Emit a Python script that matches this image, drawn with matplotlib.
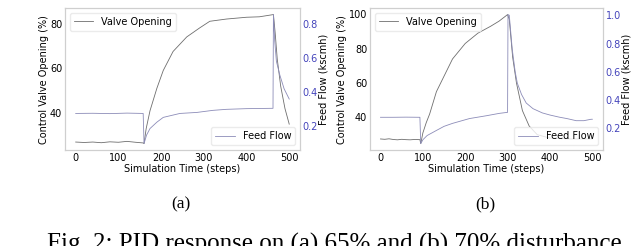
import matplotlib
matplotlib.use("Agg")
import matplotlib.pyplot as plt

# (a) 65% disturbance
a_valve_t = [0, 20, 40, 60, 80, 100, 120, 140, 158, 160, 165, 174, 190, 205, 228, 260, 290, 314, 353, 400, 430, 463, 467, 472, 480, 490, 500]
a_valve = [27.0, 26.8, 27.0, 26.7, 27.1, 26.9, 27.3, 26.9, 26.6, 26.3, 33, 41, 51, 59, 67.5, 74, 78, 81, 82, 82.8, 83, 84, 76, 64, 52, 42, 35]
a_feed_t = [0, 40, 80, 120, 158, 160, 166, 174, 190, 205, 244, 284, 321, 353, 400, 462, 463, 466, 470, 478, 488, 500]
a_feed = [0.276, 0.277, 0.275, 0.278, 0.276, 0.10, 0.15, 0.188, 0.225, 0.253, 0.276, 0.282, 0.294, 0.300, 0.304, 0.306, 0.853, 0.70, 0.58, 0.50, 0.42, 0.36]
a_left_ticks = [40, 60, 80]

# (b) 70% disturbance
b_valve_t = [0, 10, 20, 30, 40, 50, 60, 70, 80, 93, 95, 100, 108, 116, 132, 146, 170, 200, 230, 260, 280, 300, 304, 312, 321, 335, 351, 370, 400, 450, 500]
b_valve = [27.5, 27.3, 27.6, 27.2, 27.0, 27.3, 27.1, 27.0, 27.2, 27.1, 24.8, 31, 37, 42, 55, 62, 74, 83, 89, 93, 96, 99.8, 97, 75, 60, 44, 35, 30, 28, 27.5, 27.5]
b_feed_t = [0, 30, 60, 93, 95, 100, 110, 132, 150, 170, 210, 250, 281, 300, 301, 304, 311, 318, 323, 333, 344, 360, 382, 400, 422, 440, 462, 480, 497, 500]
b_feed = [0.279, 0.279, 0.280, 0.279, 0.093, 0.12, 0.15, 0.186, 0.215, 0.236, 0.27, 0.29, 0.307, 0.314, 1.005, 1.0, 0.76, 0.60, 0.52, 0.44, 0.38, 0.34, 0.31, 0.295, 0.28, 0.27, 0.255, 0.255, 0.265, 0.265]
b_left_ticks = [40, 60, 80, 100]

x_ticks = [0, 100, 200, 300, 400, 500]

panels = [
    (a_valve_t, a_valve, a_feed_t, a_feed, a_left_ticks, [0.1016, 0.390, 0.367, 0.577], 0.283, "(a)"),
    (b_valve_t, b_valve, b_feed_t, b_feed, b_left_ticks, [0.578, 0.390, 0.364, 0.577], 0.758, "(b)"),
]

plt.rcParams['font.family'] = 'DejaVu Sans'
plt.rcParams['font.size'] = 7

valve_color = '#6e6e6e'
feed_color = '#8c8cb8'
spine_color = '#cfcfcf'
tick_blue = '#4444bb'

fig = plt.figure(figsize=(6.4, 2.46), dpi=100)

for vt, vv, ft, fv, lticks, rect, cx, tag in panels:
    ax = fig.add_axes(rect)
    ax2 = ax.twinx()
    ax.plot(vt, vv, color=valve_color, lw=0.6, label='Valve Opening')
    ax2.plot(ft, fv, color=feed_color, lw=0.6, label='Feed Flow')
    ax.set_xticks(x_ticks)
    ax.set_yticks(lticks)
    ax.set_xlabel('Simulation Time (steps)', labelpad=0.5)
    ax.set_ylabel('Control Valve Opening (%)', labelpad=1)
    ax2.set_ylabel('Feed Flow (kscmh)', labelpad=0.5)
    ax.tick_params(length=0, pad=2)
    ax2.tick_params(length=0, pad=2, colors=tick_blue)
    for a in (ax, ax2):
        for s in a.spines.values():
            s.set_color(spine_color)
            s.set_linewidth(0.8)
    ax.legend(loc='upper left', fontsize=7, frameon=True, edgecolor='#e6e6e6', fancybox=True)
    ax2.legend(loc='lower right', fontsize=7, frameon=True, edgecolor='#e6e6e6', fancybox=True)
    fig.text(cx, 1 - 204 / 246, tag, family='Liberation Serif', fontsize=12.5, ha='center', va='center')

# caption runs off the bottom edge, as in the source page
fig.text(47 / 640, 1 - 233 / 246, 'Fig. 2: PID response on (a) 65% and (b) 70% disturbance',
         family='Liberation Serif', fontsize=18, ha='left', va='top')

fig.savefig('out.png', dpi=100)
